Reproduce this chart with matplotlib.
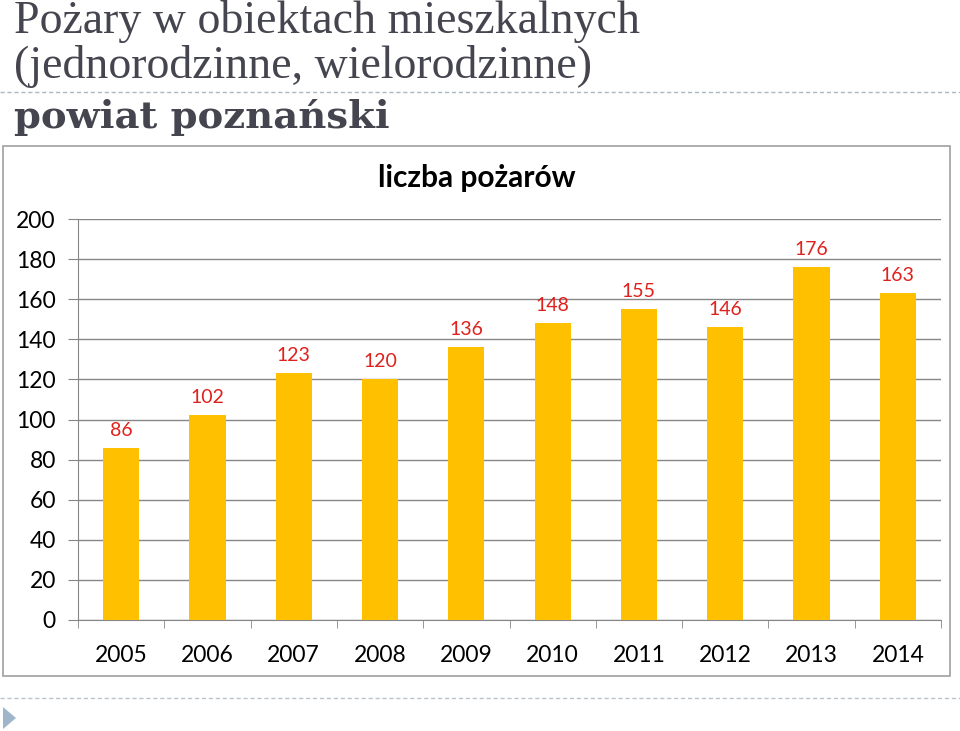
import numpy as np
import matplotlib
matplotlib.use("Agg")
import matplotlib.pyplot as plt
from matplotlib.lines import Line2D
from matplotlib.patches import Rectangle, Polygon

# dane
years = ['2005', '2006', '2007', '2008', '2009', '2010', '2011', '2012', '2013', '2014']
fires = [86, 102, 123, 120, 136, 148, 155, 146, 176, 163]
yticks = [0, 20, 40, 60, 80, 100, 120, 140, 160, 180, 200]

W, H = 960, 731
fig = plt.figure(figsize=(W / 100, H / 100), dpi=100)

def fx(px):
    return px / W

def fy(py):
    return 1 - py / H

# naglowek slajdu
txt_col = '#45454f'
fig.text(fx(14), fy(33), 'Pożary w obiektach mieszkalnych', fontsize=33,
         family='Liberation Serif', color=txt_col, va='baseline', ha='left')
fig.text(fx(14), fy(78), '(jednorodzinne, wielorodzinne)', fontsize=33,
         family='Liberation Serif', color=txt_col, va='baseline', ha='left')
fig.add_artist(Line2D([0, 1], [fy(92), fy(92)], transform=fig.transFigure,
                      color='#a9b9c4', lw=1, ls=(0, (3, 2))))
fig.text(fx(14), fy(117), 'powiat poznański', fontsize=27.7, weight='bold',
         family='DejaVu Serif', color=txt_col, va='center', ha='left')

# ramka wykresu
fig.add_artist(Rectangle((fx(3), fy(676)), fx(947), fy(146) - fy(676),
                         transform=fig.transFigure, fill=False,
                         ec='#a0a0a0', lw=1.2))

# stopka
fig.add_artist(Line2D([0, 1], [fy(698), fy(698)], transform=fig.transFigure,
                      color='#b9c4cc', lw=1, ls=(0, (3, 2))))
fig.add_artist(Polygon([[fx(3), fy(707)], [fx(16), fy(718)], [fx(3), fy(729)]],
                       closed=True, transform=fig.transFigure,
                       fc='#9fb5c9', ec='none'))

ax = fig.add_axes([fx(78), fy(620), fx(941) - fx(78), fy(219) - fy(620)])
x = np.arange(len(years))
ax.bar(x, fires, width=0.42, color='#ffc000', zorder=3)
for xi, v in zip(x, fires):
    ax.text(xi, v + 4.5, str(v), ha='center', va='bottom', fontsize=14,
            color='#e0201c', family='Lato')

ax.set_xlim(-0.5, len(years) - 0.5)
ax.set_ylim(0, 200)
ax.set_yticks(yticks)
ax.set_yticklabels([str(t) for t in yticks], fontsize=16.5, family='Lato')
ax.set_xticks(x)
ax.set_xticklabels(years, fontsize=16.5, family='Lato')
ax.set_xticks(np.arange(len(years) + 1) - 0.5, minor=True)
ax.tick_params(axis='x', which='major', length=0, pad=18)
ax.tick_params(axis='x', which='minor', length=6, color='#868686', direction='out')
ax.tick_params(axis='y', length=7, color='#868686', pad=9)
ax.grid(axis='y', color='#868686', lw=1, zorder=0)
for s in ['top', 'right']:
    ax.spines[s].set_visible(False)
ax.spines['left'].set_color('#868686')
ax.spines['bottom'].set_color('#868686')

fig.text(fx(477), fy(178), 'liczba pożarów', fontsize=21.5, weight='bold',
         family='Lato', ha='center', va='center', color='black')

fig.savefig('out.png', dpi=100)
